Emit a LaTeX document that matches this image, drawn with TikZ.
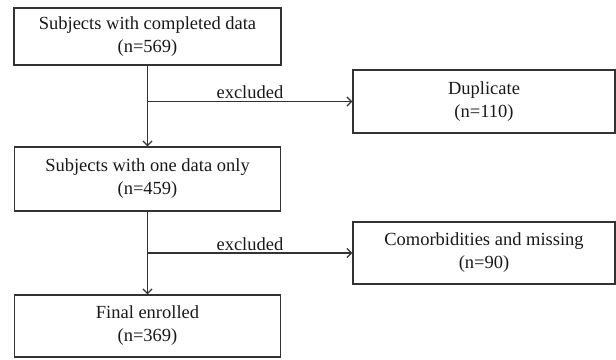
\documentclass[tikz,border=0pt]{standalone}
\usepackage{fontspec}
\setmainfont{Liberation Serif}
\usetikzlibrary{positioning, arrows.meta}

\begin{document}
\begin{tikzpicture}[x=1pt, y=-1pt,
    flowbox/.style={draw=black!80, line width=1.3pt, align=center, font=\fontsize{18.5}{23}\selectfont, text=black!90},
    flowarrow/.style={draw=black!80, line width=1.3pt, -{Straight Barb[length=4.5pt, width=9pt]}},
    note/.style={font=\fontsize{18.5}{22}\selectfont, text=black!90, inner sep=2pt}]
  \useasboundingbox (0,0) rectangle (616,359);

  \node[flowbox, minimum width=267pt, minimum height=57pt] (completed) at (147.5,36.5) {Subjects with completed data\\(n=569)};
  \node[flowbox, minimum width=266pt, minimum height=64pt] (one data) at (147.5,179) {Subjects with one data only\\(n=459)};
  \node[flowbox, minimum width=266pt, minimum height=62pt] (final) at (147.5,326) {Final enrolled\\(n=369)};

  \node[flowbox, minimum width=262pt, minimum height=63pt] (duplicate) at (484,101.5) {Duplicate\\(n=110)};
  \node[flowbox, minimum width=262pt, minimum height=62pt] (missing) at (484,253) {Comorbidities and missing\\(n=90)};

  \coordinate (split 1) at (completed.south |- duplicate.west);
  \coordinate (split 2) at (one data.south |- missing.west);

  \draw[flowarrow] (completed.south) -- (one data.north);
  \draw[flowarrow] (split 1) -- (duplicate.west) node[note, midway, above] {excluded};

  \draw[flowarrow] (one data.south) -- (final.north);
  \draw[flowarrow] (split 2) -- (missing.west) node[note, midway, above] {excluded};
\end{tikzpicture}
\end{document}
